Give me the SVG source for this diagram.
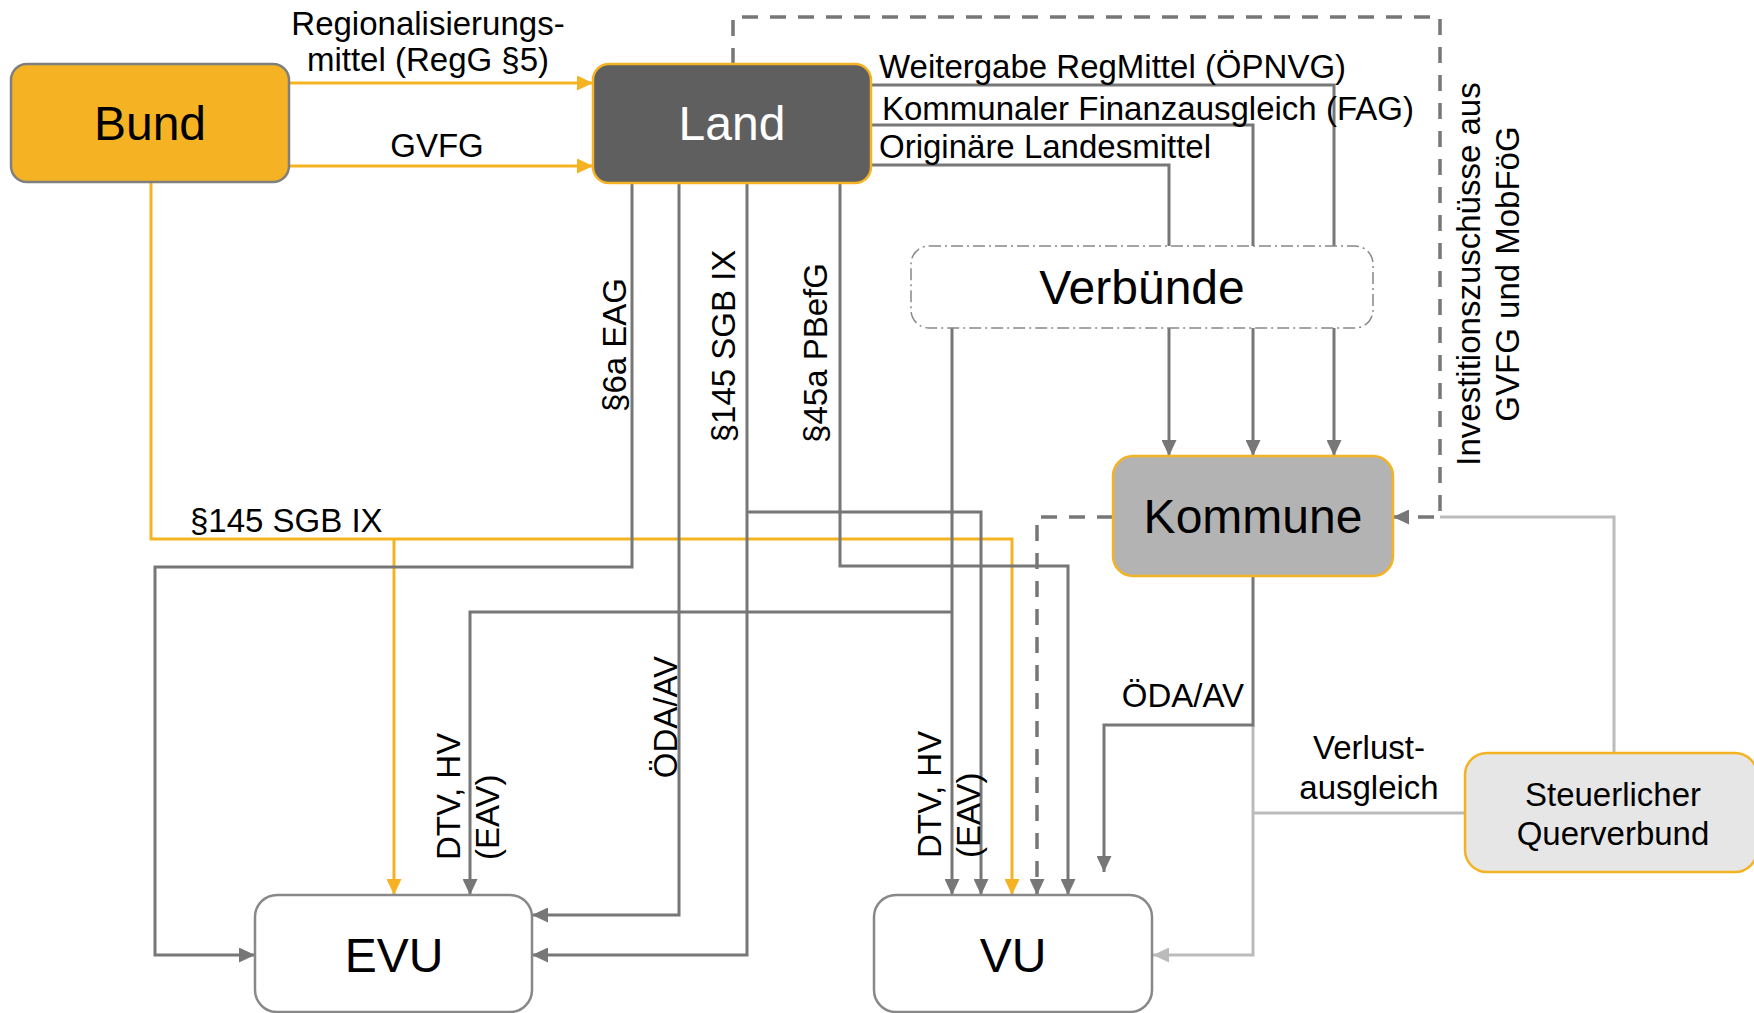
<svg xmlns="http://www.w3.org/2000/svg" width="1754" height="1013" viewBox="0 0 1754 1013">
<defs>
<marker id="ag" markerUnits="userSpaceOnUse" markerWidth="17" markerHeight="15" refX="16" refY="7.5" orient="auto" viewBox="0 0 17 15"><path d="M0,0 L16,7.5 L0,15 z" fill="#777777"/></marker>
<marker id="ay" markerUnits="userSpaceOnUse" markerWidth="17" markerHeight="15" refX="16" refY="7.5" orient="auto" viewBox="0 0 17 15"><path d="M0,0 L16,7.5 L0,15 z" fill="#F5B324"/></marker>
<marker id="al" markerUnits="userSpaceOnUse" markerWidth="17" markerHeight="15" refX="16" refY="7.5" orient="auto" viewBox="0 0 17 15"><path d="M0,0 L16,7.5 L0,15 z" fill="#BBBBBB"/></marker>
</defs>
<style>
.t{font-family:"Liberation Sans",Arial,sans-serif;font-size:33px;fill:#000}
.big{font-size:48px}
.m{text-anchor:middle}
.e{text-anchor:end}
.g{fill:none;stroke:#777777;stroke-width:3}
.y{fill:none;stroke:#F5B324;stroke-width:3}
.l{fill:none;stroke:#BBBBBB;stroke-width:3}
.d{stroke-dasharray:16 12;stroke-width:3.5}
.node{stroke-width:2.5}
</style>
<rect width="1754" height="1013" fill="#ffffff"/>

<g id="connectors">
  <path class="l" d="M1614,753 V517 H1440"/>
  <path class="l" d="M1253,725 V955 H1153" marker-end="url(#al)"/>
  <path class="l" d="M1465,813 H1253"/>

  <path class="y" d="M289,83 H593" marker-end="url(#ay)"/>
  <path class="y" d="M289,166 H593" marker-end="url(#ay)"/>
  <path class="y" d="M151,182 V539 H1012 V895" marker-end="url(#ay)"/>
  <path class="y" d="M394,539 V895" marker-end="url(#ay)"/>

  <path class="g d" d="M733,64 V17 H1440 V517 H1393" marker-end="url(#ag)"/>
  <path class="g" d="M871,85 H1334 V246"/>
  <path class="g" d="M871,125 H1253 V246"/>
  <path class="g" d="M869,165 H1169 V246"/>
  <path class="g" d="M1169,328 V456" marker-end="url(#ag)"/>
  <path class="g" d="M1253,328 V456" marker-end="url(#ag)"/>
  <path class="g" d="M1334,328 V456" marker-end="url(#ag)"/>

  <path class="g" d="M632,183 V567 H155 V955 H255" marker-end="url(#ag)"/>
  <path class="g" d="M679,183 V915 H532" marker-end="url(#ag)"/>
  <path class="g" d="M747,183 V955 H532" marker-end="url(#ag)"/>
  <path class="g" d="M747,512 H981 V895" marker-end="url(#ag)"/>
  <path class="g" d="M840,183 V566 H1068 V895" marker-end="url(#ag)"/>
  <path class="g" d="M952,328 V895" marker-end="url(#ag)"/>
  <path class="g" d="M952,612 H470 V895" marker-end="url(#ag)"/>
  <path class="g d" d="M1113,517 H1037 V895" marker-end="url(#ag)"/>
  <path class="g" d="M1253,576 V725 H1104 V872" marker-end="url(#ag)"/>

  <text class="t m" x="428" y="35">Regionalisierungs-</text>
  <text class="t m" x="428" y="71">mittel (RegG §5)</text>
  <text class="t m" x="437" y="157">GVFG</text>
  <text class="t" x="879" y="78">Weitergabe RegMittel (ÖPNVG)</text>
  <text class="t" x="882" y="120">Kommunaler Finanzausgleich (FAG)</text>
  <text class="t" x="879" y="158">Originäre Landesmittel</text>
  <text class="t m" transform="translate(626,345) rotate(-90)">§6a EAG</text>
  <text class="t m" transform="translate(735,346) rotate(-90)">§145 SGB IX</text>
  <text class="t m" transform="translate(827,353) rotate(-90)">§45a PBefG</text>
  <text class="t" x="190" y="532">§145 SGB IX</text>
  <text class="t m" transform="translate(677,717) rotate(-90)">ÖDA/AV</text>
  <text class="t" transform="translate(460,860) rotate(-90)">DTV, HV</text>
  <text class="t" transform="translate(499,860) rotate(-90)">(EAV)</text>
  <text class="t" transform="translate(941,858) rotate(-90)">DTV, HV</text>
  <text class="t" transform="translate(980,858) rotate(-90)">(EAV)</text>
  <text class="t m" transform="translate(1480,274) rotate(-90)">Investitionszuschüsse aus</text>
  <text class="t m" transform="translate(1519,274) rotate(-90)">GVFG und MobFöG</text>
  <text class="t e" x="1244" y="707">ÖDA/AV</text>
  <text class="t m" x="1369" y="759">Verlust-</text>
  <text class="t m" x="1369" y="799">ausgleich</text>
</g>

<g id="bund">
  <rect class="node" x="11" y="64" width="278" height="118" rx="16" fill="#F5B324" stroke="#7F7F7F"/>
  <text class="t big m" x="150" y="140">Bund</text>
</g>
<g id="land">
  <rect class="node" x="593" y="64" width="278" height="119" rx="16" fill="#5F5F5F" stroke="#F5B324"/>
  <text class="t big m" x="732" y="140" style="fill:#ffffff">Land</text>
</g>
<g id="verbuende">
  <rect x="911" y="246" width="462" height="82" rx="18" fill="#ffffff" stroke="#888888" stroke-width="1.5" stroke-dasharray="12 4 2 4"/>
  <text class="t big m" x="1142" y="304">Verbünde</text>
</g>
<g id="kommune">
  <rect class="node" x="1113" y="456" width="280" height="120" rx="20" fill="#B3B3B3" stroke="#F5B324"/>
  <text class="t big m" x="1253" y="533">Kommune</text>
</g>
<g id="evu">
  <rect class="node" x="255" y="895" width="277" height="117" rx="22" fill="#ffffff" stroke="#888888"/>
  <text class="t big m" x="394" y="972">EVU</text>
</g>
<g id="vu">
  <rect class="node" x="874" y="895" width="278" height="117" rx="22" fill="#ffffff" stroke="#888888"/>
  <text class="t big m" x="1013" y="972">VU</text>
</g>
<g id="steuerlicher-querverbund">
  <rect class="node" x="1465" y="753" width="292" height="119" rx="22" fill="#E6E6E6" stroke="#F5B324"/>
  <text class="t m" x="1613" y="806">Steuerlicher</text>
  <text class="t m" x="1613" y="845">Querverbund</text>
</g>
</svg>
